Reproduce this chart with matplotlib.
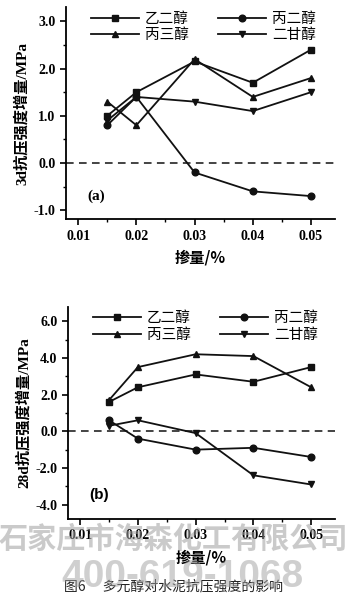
import matplotlib
matplotlib.use('Agg')
import matplotlib.pyplot as plt
from matplotlib.ticker import MultipleLocator, FormatStrFormatter

# data
dosage = [0.015, 0.02, 0.03, 0.04, 0.05]
names = ['乙二醇', '丙二醇', '丙三醇', '二甘醇']
d3_yec = [1.0, 1.5, 2.15, 1.7, 2.4]
d3_bec = [0.8, 1.4, -0.2, -0.6, -0.7]
d3_bsc = [1.3, 0.8, 2.2, 1.4, 1.8]
d3_egc = [0.9, 1.4, 1.3, 1.1, 1.5]
d28_yec = [1.6, 2.4, 3.1, 2.7, 3.5]
d28_bec = [0.6, -0.4, -1.0, -0.9, -1.4]
d28_bsc = [1.7, 3.5, 4.2, 4.1, 2.4]
d28_egc = [0.3, 0.6, -0.1, -2.4, -2.9]
markers = ['s', 'o', '^', 'v']

cjk = ['Noto Sans CJK SC', 'DejaVu Sans']
plt.rcParams['font.family'] = cjk

fig = plt.figure(figsize=(3.47, 5.99), dpi=100)


def panel(rect, series, ylim, ystep, ylabel, tag, tagfont, tagpos):
    ax = fig.add_axes(rect)
    lines = []
    for s, mk, nm in zip(series, markers, names):
        ln, = ax.plot(dosage, s, color='#111111', lw=1.3, marker=mk, ms=4.8, label=nm)
        lines.append(ln)
    ax.axhline(0, color='#111111', lw=1.1, ls=(0, (5, 3.5)))
    ax.set_xlim(0.0079, 0.0541)
    ax.set_ylim(*ylim)
    ax.spines['top'].set_visible(False)
    ax.spines['right'].set_visible(False)
    for sp in ['left', 'bottom']:
        ax.spines[sp].set_linewidth(1.3)
    ax.xaxis.set_major_locator(MultipleLocator(0.01))
    ax.xaxis.set_minor_locator(MultipleLocator(0.005))
    ax.yaxis.set_major_locator(MultipleLocator(ystep))
    ax.yaxis.set_minor_locator(MultipleLocator(ystep / 2))
    ax.xaxis.set_major_formatter(FormatStrFormatter('%.2f'))
    ax.yaxis.set_major_formatter(FormatStrFormatter('%.1f'))
    ax.tick_params(direction='out', which='major', length=4, width=1.2)
    ax.tick_params(direction='out', which='minor', length=2.5, width=1.0)
    for lb in ax.get_xticklabels() + ax.get_yticklabels():
        lb.set_fontfamily('Liberation Serif')
        lb.set_fontweight('bold')
        lb.set_fontsize(10)
    ax.set_xlabel('掺量/%', fontsize=11, fontweight='bold', labelpad=5)
    ax.set_ylabel(ylabel, fontsize=11, fontweight='bold', labelpad=3,
                  family=['Liberation Serif', 'Noto Sans CJK SC'])
    # legend rows: 乙二醇 丙二醇 / 丙三醇 二甘醇
    order = [0, 2, 1, 3]
    ax.legend([lines[i] for i in order], [names[i] for i in order], ncol=2,
              frameon=False, loc='upper left', bbox_to_anchor=(0.06, 1.02),
              fontsize=10.5, handlelength=3.3, columnspacing=2.0, labelspacing=0.15,
              handletextpad=0.4, borderaxespad=0.2)
    ax.text(tagpos[0], tagpos[1], tag, fontsize=11, fontweight='bold', family=tagfont,
            va='center', ha='left')
    return ax


panel([0.190, 0.634, 0.775, 0.354], [d3_yec, d3_bec, d3_bsc, d3_egc],
      (-1.19, 3.3), 1.0, '3d抗压强度增量/MPa', '(a)', 'Liberation Serif', (0.0115, -0.7))
panel([0.196, 0.1336, 0.769, 0.354], [d28_yec, d28_bec, d28_bsc, d28_egc],
      (-4.78, 6.78), 2.0, '28d抗压强度增量/MPa', '(b)', 'Liberation Sans', (0.0115, -3.5))

fig.text(0.5, 0.0215, '图6　 多元醇对水泥抗压强度的影响', ha='center', va='center',
         fontsize=10, color='#222222')
fig.text(0.5, 0.101, '石家庄市海森化工有限公司', ha='center', va='center', fontsize=21,
         fontweight='bold', color='#a0a0a0', alpha=0.55)
fig.text(0.525, 0.037, '400-619-1068', ha='center', va='center', fontsize=28,
         fontweight='bold', color='#a0a0a0', alpha=0.5, family='Liberation Sans')

fig.savefig('out.png', dpi=100)
